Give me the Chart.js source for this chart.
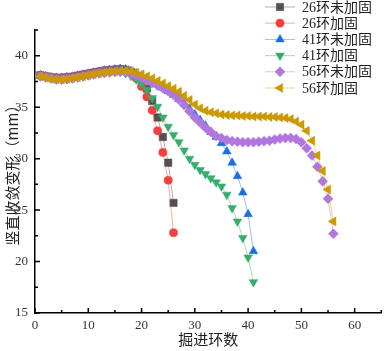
<!DOCTYPE html>
<html lang="zh-CN">
<head>
    <meta charset="UTF-8">
    <title>竖直收敛变形</title>
    <script src="https://cdn.jsdelivr.net/npm/chart.js@4.4.0/dist/chart.umd.min.js"></script>
    <style>
        body { margin: 0; background: #fff; }
        #box { width: 387px; height: 351px; }
    </style>
</head>
<body>
    <div id="box"><canvas id="grafico" width="387" height="351"></canvas></div>

<script>
    // dados (anel 1..N)
    var rotulos = ['26环未加固', '26环加固', '41环未加固', '41环加固', '56环未加固', '56环加固'];

    var s26sem = [38.1, 38.0, 37.9, 37.85, 37.85, 37.9, 37.95, 38.05, 38.15, 38.25, 38.35, 38.45, 38.55, 38.6, 38.65, 38.7,
        38.65, 38.4, 38.05, 37.6, 36.8, 35.6, 34.0, 32.1, 29.6, 25.7];
    var s26com = [38.1, 38.0, 37.9, 37.85, 37.85, 37.9, 37.95, 38.05, 38.15, 38.25, 38.35, 38.45, 38.55, 38.6, 38.65, 38.7,
        38.6, 38.3, 37.8, 37.0, 36.0, 34.7, 32.7, 30.6, 27.9, 22.8];
    var s41sem = [38.1, 38.0, 37.9, 37.85, 37.85, 37.9, 37.95, 38.05, 38.15, 38.25, 38.35, 38.45, 38.55, 38.6, 38.65, 38.7,
        38.65, 38.5, 38.3, 38.05, 37.8, 37.5, 37.2, 36.9, 36.55, 36.2, 35.8, 35.35, 34.85, 34.3, 33.75, 33.2, 32.6, 32.1,
        31.5, 30.7, 29.6, 28.3, 26.7, 24.6, 21.0];
    var s41com = [38.0, 37.9, 37.8, 37.7, 37.7, 37.75, 37.8, 37.9, 38.0, 38.1, 38.2, 38.3, 38.35, 38.4, 38.45, 38.45,
        38.3, 38.05, 37.7, 37.25, 36.7, 35.9, 35.05, 34.0, 33.1, 32.3, 31.6, 30.8, 30.0, 29.4, 28.9, 28.5, 28.1, 27.7,
        27.3, 26.5, 25.2, 23.9, 22.3, 20.4, 18.0];
    var s56sem = [38.0, 37.9, 37.8, 37.7, 37.7, 37.75, 37.8, 37.9, 38.0, 38.1, 38.2, 38.3, 38.35, 38.4, 38.45, 38.45,
        38.4, 38.25, 38.05, 37.85, 37.6, 37.35, 37.1, 36.85, 36.55, 36.2, 35.75, 35.2, 34.6, 34.0, 33.5, 33.0, 32.6, 32.2,
        32.0, 31.8, 31.7, 31.65, 31.6, 31.6, 31.6, 31.65, 31.7, 31.75, 31.85, 31.95, 32.0, 32.0, 31.9, 31.6, 31.0, 30.3,
        29.2, 27.8, 26.1, 22.7];
    var s56com = [38.0, 37.85, 37.75, 37.7, 37.7, 37.75, 37.8, 37.9, 38.0, 38.1, 38.2, 38.3, 38.4, 38.45, 38.5, 38.55,
        38.55, 38.5, 38.35, 38.2, 38.0, 37.8, 37.55, 37.3, 37.05, 36.8, 36.5, 36.1, 35.7, 35.25, 34.9, 34.65, 34.5, 34.4,
        34.3, 34.25, 34.2, 34.2, 34.15, 34.15, 34.1, 34.1, 34.1, 34.05, 34.05, 34.0, 33.95, 33.85, 33.6, 33.3, 32.7, 31.75,
        30.3, 28.8, 27.0, 23.9];

    var ticksX = [0, 10, 20, 30, 40, 50, 60];
    var ticksY = [15, 20, 25, 30, 35, 40];

    var cores = ['#515151', '#F14040', '#1A6FDF', '#37AD6B', '#B177DE', '#CC9900'];
    var estilos = ['rect', 'circle', 'triangle', 'triangle', 'rectRot', 'triangle'];
    var rotacoes = [0, 0, 0, 180, 0, -90];
    var raios = [5.2, 4.1, 5, 5, 5, 5.2];

    var series = [s26sem, s26com, s41sem, s41com, s56sem, s56com];

    function pontos(arr) {
        return arr.map(function (v, i) { return { x: i + 1, y: v }; });
    }

    var datasets = series.map(function (arr, i) {
        return {
            label: rotulos[i],
            data: pontos(arr),
            borderColor: cores[i] + '70',
            borderWidth: 1,
            backgroundColor: cores[i],
            pointBackgroundColor: cores[i],
            pointBorderColor: cores[i],
            pointBorderWidth: 0.5,
            pointStyle: estilos[i],
            pointRotation: rotacoes[i],
            pointRadius: raios[i],
            tension: 0,
            order: 5 - i
        };
    });

    // ticks para dentro
    var ticksDentro = {
        id: 'ticksDentro',
        afterDatasetsDraw: function (chart) {
            var ctx = chart.ctx;
            var x = chart.scales.x, y = chart.scales.y;
            var a = chart.chartArea;
            ctx.save();
            ctx.strokeStyle = '#000';
            ctx.lineWidth = 1.5;
            ctx.beginPath();
            for (var v = 0; v <= 65; v += 5) {
                var px = x.getPixelForValue(v);
                var len = (v % 10 === 0) ? 5 : 3;
                ctx.moveTo(px, a.bottom);
                ctx.lineTo(px, a.bottom - len);
            }
            for (var w = 15; w <= 42.5; w += 2.5) {
                var py = y.getPixelForValue(w);
                var len2 = (w % 5 === 0) ? 5 : 3;
                ctx.moveTo(a.left, py);
                ctx.lineTo(a.left + len2, py);
            }
            ctx.stroke();
            ctx.restore();
        }
    };

    // legenda com linha + marcador
    var legenda = {
        id: 'legenda',
        afterDraw: function (chart) {
            var ctx = chart.ctx;
            ctx.save();
            ctx.font = '14px "Liberation Serif", "Noto Sans CJK SC", serif';
            ctx.textBaseline = 'middle';
            rotulos.forEach(function (txt, i) {
                var yy = 7 + i * 16.2;
                ctx.strokeStyle = cores[i] + '70';
                ctx.lineWidth = 1;
                ctx.beginPath();
                ctx.moveTo(265, yy);
                ctx.lineTo(295, yy);
                ctx.stroke();
                ctx.fillStyle = cores[i];
                ctx.strokeStyle = cores[i];
                ctx.lineWidth = 0.5;
                Chart.helpers.drawPoint(ctx, {
                    pointStyle: estilos[i], radius: raios[i], rotation: rotacoes[i], borderWidth: 0.5
                }, 280, yy);
                ctx.fillStyle = '#222';
                ctx.fillText(txt, 302, yy + 1);
            });
            ctx.restore();
        }
    };

    var fonteTick = { family: '"Liberation Serif", serif', size: 13 };

    var grafico = new Chart(document.getElementById('grafico').getContext('2d'), {
        type: 'line',
        data: { datasets: datasets },
        options: {
            responsive: false,
            animation: false,
            layout: { padding: { top: 30, right: 1, left: 0, bottom: 0 } },
            plugins: {
                legend: { display: false },
                tooltip: { enabled: false }
            },
            scales: {
                x: {
                    type: 'linear',
                    min: 0,
                    max: 65,
                    afterBuildTicks: function (s) { s.ticks = ticksX.map(function (v) { return { value: v }; }); },
                    afterFit: function (s) { s.height = 38; },
                    grid: { display: false, drawTicks: false },
                    border: { display: true, color: '#000', width: 1.5 },
                    ticks: { color: '#333', font: fonteTick, padding: 5, maxRotation: 0 },
                    title: {
                        display: true,
                        text: '掘进环数',
                        color: '#222',
                        font: { family: '"Noto Sans CJK SC", serif', size: 15 },
                        padding: { bottom: 3, top: 0 }
                    }
                },
                y: {
                    min: 15,
                    max: 42.5,
                    afterBuildTicks: function (s) { s.ticks = ticksY.map(function (v) { return { value: v }; }); },
                    afterFit: function (s) { s.width = 35; },
                    grid: { display: false, drawTicks: false },
                    border: { display: true, color: '#000', width: 1.5 },
                    ticks: { color: '#333', font: fonteTick, padding: 7 },
                    title: {
                        display: true,
                        text: '竖直收敛变形（mm）',
                        color: '#222',
                        font: { family: '"Noto Sans CJK SC", serif', size: 15 },
                        padding: { top: 3, bottom: 0 }
                    }
                }
            }
        },
        plugins: [ticksDentro, legenda]
    });
</script>
</body>
</html>
